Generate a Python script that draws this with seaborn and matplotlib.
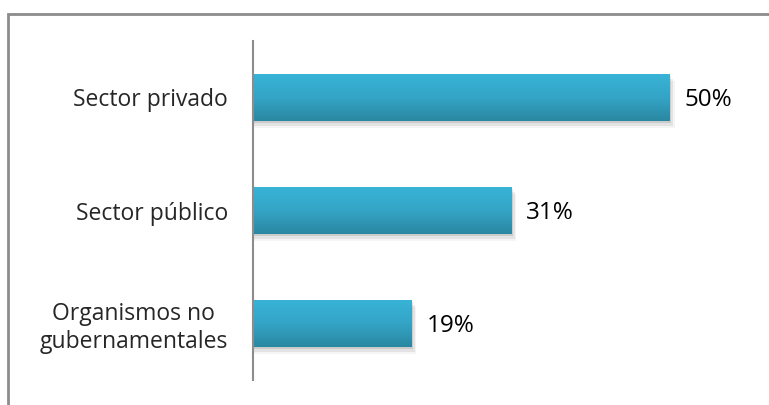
import numpy as np
import pandas as pd
import matplotlib
matplotlib.use('Agg')
import matplotlib.pyplot as plt
import seaborn as sns
from matplotlib.colors import LinearSegmentedColormap
from matplotlib.patches import Rectangle

# Data
categorias = ['Sector privado', 'Sector público', 'Organismos no\ngubernamentales']
valores = [0.50, 0.31, 0.19]
etiquetas = ['50%', '31%', '19%']

df = pd.DataFrame({'Categoria': categorias, 'Valor': valores})

sns.set_style('white')
plt.rcParams['font.family'] = ['Open Sans', 'DejaVu Sans']

fig = plt.figure(figsize=(7.69, 4.05), dpi=100)
ax = fig.add_axes([253 / 769, 25 / 405, 500 / 769, 339 / 405])

sns.barplot(data=df, x='Valor', y='Categoria', ax=ax, color='#33AFD3',
            width=0.416, saturation=1)

# gradient fill + soft shadow for each bar
cmap = LinearSegmentedColormap.from_list('bar', ['#38B4D8', '#34A5C6', '#2A87A1'])
grad = np.linspace(0, 1, 256).reshape(-1, 1)
for bar in ax.patches[:len(valores)]:
    x0, y0 = bar.get_x(), bar.get_y()
    w, h = bar.get_width(), bar.get_height()
    for i, a in enumerate([0.10, 0.07, 0.04]):
        sh = Rectangle((x0, y0 + 0.02 * (i + 1)), w + 0.002 * (i + 1), h,
                       color='black', alpha=a, lw=0, zorder=1)
        ax.add_patch(sh)
    bar.set_facecolor('none')
    bar.set_edgecolor('none')
    im = ax.imshow(grad, extent=[x0, x0 + w, y0 + h, y0], aspect='auto',
                   cmap=cmap, zorder=2, origin='upper')
    clip = Rectangle((x0, y0), w, h, transform=ax.transData)
    im.set_clip_path(clip)

for i, (v, t) in enumerate(zip(valores, etiquetas)):
    ax.text(v + 0.018, i + 0.025, t, va='center', ha='left', fontsize=17.5,
            color='black')

ax.set_xlim(0, 0.6)
ax.set_ylim(2.5, -0.5)
ax.set_xlabel('')
ax.set_ylabel('')
ax.set_xticks([])
ax.tick_params(axis='y', length=0, pad=18, labelsize=16.5)
for lbl in ax.get_yticklabels():
    lbl.set_multialignment('center')
    lbl.set_linespacing(1.18)
for s in ['top', 'right', 'bottom']:
    ax.spines[s].set_visible(False)
ax.spines['left'].set_color('#8C8C8C')
ax.spines['left'].set_linewidth(1.5)

# outer chart border (top and left visible)
border = Rectangle((7.5 / 769, -0.1), 1.2, (405 - 13.5) / 405 + 0.1,
                   transform=fig.transFigure, fill=False, edgecolor='#8C8C8C',
                   lw=2, zorder=10)
fig.patches.append(border)

fig.savefig('out.png', dpi=100)
